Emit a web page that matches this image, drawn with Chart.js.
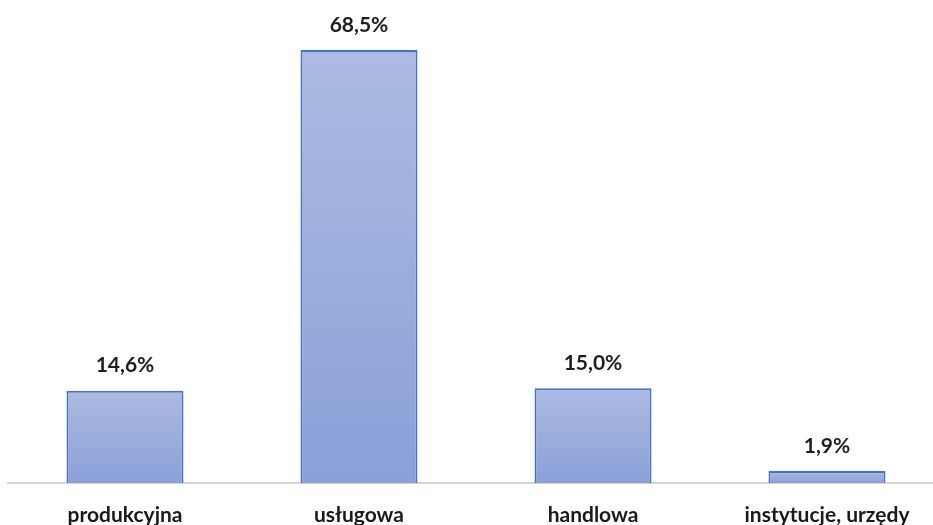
<!DOCTYPE html>
<html>
<head>
<meta charset="utf-8">
<script src="https://cdn.jsdelivr.net/npm/chart.js@4"></script>
<style>
  html, body { margin: 0; padding: 0; background: #fff; overflow: hidden; }
  #wrap { width: 944px; height: 525px; }
</style>
</head>
<body>
<div id="wrap"><canvas id="chart"></canvas></div>
<script>
const categories = ['produkcyjna', 'usługowa', 'handlowa', 'instytucje, urzędy'];
const shares = [14.6, 68.5, 15.0, 1.9];
const valueLabels = ['14,6%', '68,5%', '15,0%', '1,9%'];

// gradient per bar: lighter on top, darker at the base
function barFill(context) {
    const chart = context.chart;
    const area = chart.chartArea;
    if (!area) return '#9aaedd';
    const y = chart.scales.y;
    const top = y.getPixelForValue(context.raw);
    const bottom = y.getPixelForValue(0);
    const g = chart.ctx.createLinearGradient(0, top, 0, bottom);
    g.addColorStop(0, '#adbbe2');
    g.addColorStop(1, '#8aa0d8');
    return g;
}

// percentage text above each bar
const valueLabelPlugin = {
    id: 'valueLabels',
    afterDatasetsDraw(chart) {
        const ctx = chart.ctx;
        const meta = chart.getDatasetMeta(0);
        ctx.save();
        ctx.font = 'bold 21px Lato';
        ctx.fillStyle = '#1e1e1e';
        ctx.textAlign = 'center';
        ctx.textBaseline = 'middle';
        meta.data.forEach((bar, i) => {
            ctx.fillText(valueLabels[i], bar.x, bar.y - 25);
        });
        ctx.restore();
    }
};

new Chart(document.getElementById('chart'), {
    type: 'bar',
    data: {
        labels: categories,
        datasets: [{
            data: shares,
            backgroundColor: barFill,
            borderColor: '#4472c4',
            borderWidth: 2,
            borderSkipped: 'bottom',
            barPercentage: 0.5,
            categoryPercentage: 1
        }]
    },
    options: {
        responsive: true,
        maintainAspectRatio: false,
        animation: false,
        layout: { padding: { left: 8, right: 0, top: 9, bottom: 0 } },
        plugins: {
            legend: { display: false },
            tooltip: { enabled: false }
        },
        scales: {
            x: {
                grid: { display: false },
                border: { color: '#d4d4d4', width: 2 },
                ticks: {
                    color: '#1a1a1a',
                    font: { family: 'Lato', weight: 'bold', size: 21 },
                    padding: 12,
                    maxRotation: 0
                },
                afterFit(scale) { scale.height = 42; }
            },
            y: {
                display: false,
                min: 0,
                max: 75
            }
        }
    },
    plugins: [valueLabelPlugin]
});
</script>
</body>
</html>
